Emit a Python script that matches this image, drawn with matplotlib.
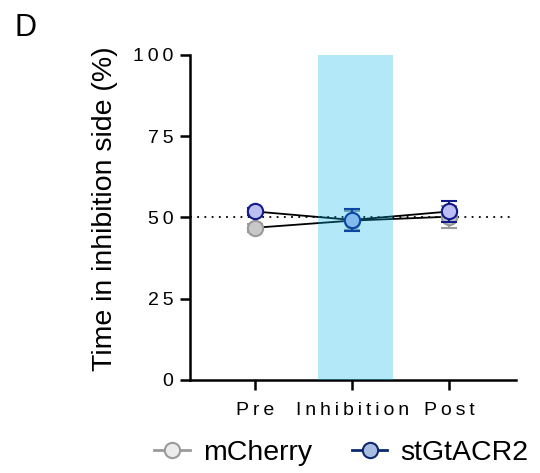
import matplotlib
matplotlib.use("Agg")
import matplotlib.pyplot as plt
from matplotlib.lines import Line2D

plt.rcParams["font.family"] = ["Liberation Sans", "DejaVu Sans"]

phases = ["Pre", "Inhibition", "Post"]
mcherry_mean = [46.8, 49.0, 50.2]
mcherry_err = [1.2, 3.0, 3.4]
gtacr_mean = [51.8, 49.2, 51.8]
gtacr_err = [1.0, 3.4, 3.2]
yticks = [0, 25, 50, 75, 100]

TS = "\u2009"


def spaced(s):
    # GraphPad-style letter spacing on tick labels
    return TS.join(s)


fig = plt.figure(figsize=(5.4, 4.73), dpi=100)
ax = fig.add_axes([0.352, 0.197, 0.604, 0.687])
x = list(range(len(phases)))

ax.axhline(50, color="black", linestyle=(0, (1, 3)), linewidth=1.3, xmax=0.98, zorder=1)

ax.errorbar(x, mcherry_mean, yerr=mcherry_err, fmt="-", color="black", lw=1.3,
            ecolor="#9a9a9a", elinewidth=1.5, capsize=6, capthick=1.5, zorder=2)
ax.plot(x, mcherry_mean, "o", ms=11, mfc="#c8c8c8", mec="#9a9a9a", mew=1.5, zorder=3)

ax.errorbar(x, gtacr_mean, yerr=gtacr_err, fmt="-", color="black", lw=1.3,
            ecolor="#101a8a", elinewidth=1.5, capsize=6, capthick=1.5, zorder=4)
ax.plot(x, gtacr_mean, "o", ms=11, mfc="#bcbdf2", mec="#101a8a", mew=1.5, zorder=5)

# light-blue inhibition window, drawn over the marks with transparency
ax.axvspan(0.65, 1.42, color="#00b5e8", alpha=0.3, lw=0, zorder=6)

ax.set_xlim(-0.67, 2.69)
ax.set_ylim(0, 100)
ax.set_xticks(x)
ax.set_xticklabels([spaced(p) for p in phases], fontsize=14)
ax.set_yticks(yticks)
ax.set_yticklabels([spaced(str(t)) for t in yticks], fontsize=14)
ax.tick_params(axis="both", length=7, width=1.8, direction="out", pad=5)
ax.tick_params(axis="x", pad=9)
for side in ["top", "right"]:
    ax.spines[side].set_visible(False)
for side in ["left", "bottom"]:
    ax.spines[side].set_linewidth(1.8)

ax.set_ylabel("Time in inhibition side (%)", fontsize=20.5)
ax.yaxis.set_label_coords(-0.22, 0.526)

handles = [
    Line2D([0], [0], color="#9a9a9a", lw=2, marker="o", ms=11,
           mfc="#ececec", mec="#9a9a9a", mew=1.5),
    Line2D([0], [0], color="#0d2a6e", lw=2, marker="o", ms=11,
           mfc="#a9bde3", mec="#0d2a6e", mew=1.5),
]
fig.legend(handles, ["mCherry", "stGtACR2"], loc="center", bbox_to_anchor=(0.632, 0.042),
           ncol=2, frameon=False, fontsize=20.5, handlelength=1.25, columnspacing=1.4,
           handletextpad=0.45)

fig.text(0.026, 0.94, "D", fontsize=22, ha="left", va="center")

fig.savefig("out.png", dpi=100)
